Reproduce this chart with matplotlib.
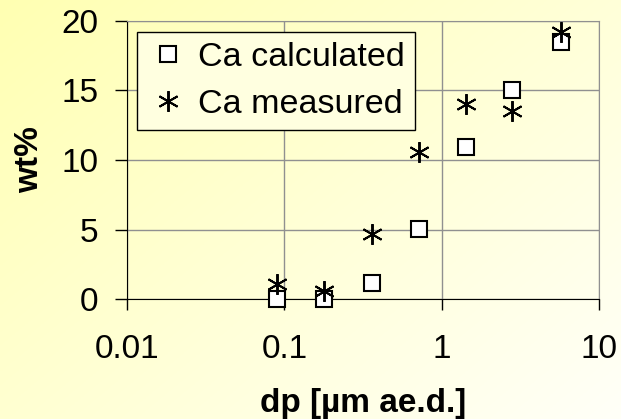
import numpy as np
import matplotlib.pyplot as plt
from matplotlib.legend_handler import HandlerLine2D

plt.rcParams['font.family'] = ['Liberation Sans', 'DejaVu Sans']

# particle diameter (um, aerodynamic) and Ca content (wt%)
dp = [0.09, 0.18, 0.36, 0.72, 1.42, 2.8, 5.7]
ca_calc = [0.0, 0.0, 1.15, 5.05, 10.95, 15.0, 18.5]
ca_meas = [1.05, 0.55, 4.7, 10.6, 14.0, 13.5, 19.2]

xticks = [0.01, 0.1, 1, 10]
xticklabels = ['0.01', '0.1', '1', '10']
yticks = [0, 5, 10, 15, 20]

W, H = 621, 419
fig = plt.figure(figsize=(W / 100, H / 100), dpi=100)

# yellow gradient background, stronger top-left to paler bottom-right
bg = fig.add_axes([0, 0, 1, 1], zorder=-10)
xx, yy = np.meshgrid(np.linspace(0, 1, 200), np.linspace(0, 1, 150))
t = np.clip(0.55 * xx + 0.45 * yy, 0, 1)
c0 = np.array([255, 255, 178]) / 255
c1 = np.array([255, 255, 248]) / 255
img = c0[None, None, :] * (1 - t[..., None]) + c1[None, None, :] * t[..., None]
bg.imshow(img, aspect='auto', extent=[0, 1, 0, 1], origin='upper')
bg.axis('off')

ax = fig.add_axes([127 / W, 1 - 299 / H, 472 / W, 278 / H])
ax.patch.set_alpha(0)

ax.plot(dp, ca_calc, ls='none', marker='s', ms=12, mfc='white', mec='black',
        mew=1.5, label='Ca calculated', zorder=3, clip_on=False)
ax.plot(dp, ca_meas, ls='none', marker=(6, 2, 0), ms=15, mec='black',
        mew=1.4, label='Ca measured', zorder=4, clip_on=False)

ax.set_xscale('log')
ax.set_xlim(0.01, 10)
ax.set_ylim(0, 20)
ax.set_xticks(xticks)
ax.set_xticklabels(xticklabels)
ax.minorticks_off()
ax.set_yticks(yticks)

ax.grid(True, color='#909090', lw=1)
ax.set_axisbelow(True)
for s in ['top', 'right']:
    ax.spines[s].set_color('#909090')
ax.spines['left'].set_color('black')
ax.spines['bottom'].set_color('black')

ax.tick_params(axis='x', direction='out', length=8, width=1, pad=17, labelsize=24)
ax.tick_params(axis='y', direction='out', length=8.5, width=1, pad=12, labelsize=24)

ax.set_xlabel('dp [µm ae.d.]', fontsize=24, fontweight='bold', labelpad=17)
ax.set_ylabel('wt%', fontsize=24, fontweight='bold', labelpad=12)


class RightMarker(HandlerLine2D):
    # put the legend marker near the right end of the handle box
    def get_xdata(self, legend, xdescent, ydescent, width, height, fontsize):
        xdata = [-xdescent, -xdescent + width]
        return xdata, [-xdescent + 0.75 * width]


leg = ax.legend(loc='upper left', bbox_to_anchor=(10 / 472, 267 / 278),
                borderaxespad=0, fontsize=24.5, frameon=True, fancybox=False,
                handlelength=1.2, handletextpad=0.3, labelspacing=0.45,
                borderpad=0.3, markerscale=1.0,
                handler_map={plt.Line2D: RightMarker(numpoints=1)})
leg.get_frame().set_edgecolor('black')
leg.get_frame().set_linewidth(1)
leg.get_frame().set_facecolor('#ffffe0')
leg.get_frame().set_alpha(1)

fig.savefig('out.png', dpi=100)
